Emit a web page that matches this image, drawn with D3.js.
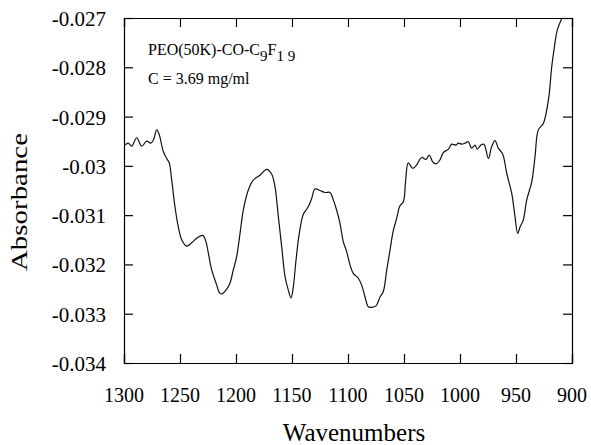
<!DOCTYPE html>
<html>
<head>
<meta charset="utf-8">
<script src="https://cdn.jsdelivr.net/npm/d3@7"></script>
<style>
  html, body { margin: 0; padding: 0; background: #fff; }
  svg { display: block; }
</style>
</head>
<body>
<svg id="chart" width="591" height="445"></svg>
<script>
// ---- data ----
const wavenumbers = [1299.1,1296.2,1293.1,1288.7,1284.2,1279.7,1276.2,1273.8,1270.8,1268.5,1264.9,1261.9,1259.6,1257.4,1254.5,1251.5,1248.5,1244.0,1239.6,1235.1,1229.7,1226.8,1224.7,1221.7,1217.2,1214.9,1212.8,1208.3,1205.4,1202.4,1199.4,1196.4,1193.5,1189.0,1184.6,1178.6,1172.6,1168.1,1165.2,1162.2,1159.2,1156.2,1153.3,1150.9,1148.8,1146.4,1143.5,1139.9,1136.9,1134.6,1132.4,1129.5,1125.0,1120.5,1116.1,1113.1,1110.1,1107.1,1104.2,1101.2,1098.2,1095.3,1090.8,1087.8,1084.8,1081.9,1078.8,1075.0,1071.4,1068.5,1065.4,1062.5,1059.6,1056.5,1053.6,1050.6,1048.5,1046.2,1042.2,1038.7,1034.2,1030.4,1027.4,1024.4,1021.4,1017.9,1014.9,1010.4,1007.4,1003.6,1001.5,998.5,995.5,992.6,989.6,986.6,984.6,981.5,978.6,974.7,971.7,968.8,965.8,961.9,958.3,953.8,950.9,948.5,946.4,943.5,940.4,935.9,933.0,930.1,925.6,922.6,920.3,918.1,916.1,913.1,909.2,906.0];
const absorbance = [-0.02958,-0.02954,-0.02960,-0.02943,-0.02960,-0.02950,-0.02954,-0.02948,-0.02927,-0.02937,-0.02971,-0.02985,-0.02994,-0.03029,-0.03083,-0.03124,-0.03150,-0.03163,-0.03156,-0.03147,-0.03141,-0.03154,-0.03177,-0.03211,-0.03242,-0.03257,-0.03260,-0.03250,-0.03238,-0.03211,-0.03184,-0.03137,-0.03090,-0.03049,-0.03029,-0.03019,-0.03007,-0.03017,-0.03042,-0.03103,-0.03164,-0.03225,-0.03252,-0.03268,-0.03245,-0.03191,-0.03137,-0.03098,-0.03088,-0.03079,-0.03066,-0.03047,-0.03050,-0.03054,-0.03054,-0.03069,-0.03090,-0.03117,-0.03154,-0.03174,-0.03201,-0.03218,-0.03228,-0.03242,-0.03266,-0.03286,-0.03287,-0.03284,-0.03266,-0.03255,-0.03211,-0.03171,-0.03132,-0.03106,-0.03081,-0.03073,-0.03029,-0.02994,-0.03005,-0.02998,-0.02983,-0.02987,-0.02978,-0.02992,-0.02996,-0.02988,-0.02973,-0.02966,-0.02956,-0.02958,-0.02954,-0.02956,-0.02954,-0.02951,-0.02964,-0.02958,-0.02966,-0.02958,-0.02956,-0.02985,-0.02961,-0.02949,-0.02964,-0.02976,-0.03015,-0.03056,-0.03103,-0.03137,-0.03124,-0.03110,-0.03069,-0.03032,-0.02981,-0.02927,-0.02914,-0.02887,-0.02853,-0.02799,-0.02765,-0.02724,-0.02701,-0.02680];
const xTicks = [1300, 1250, 1200, 1150, 1100, 1050, 1000, 950, 900];
const yTicks = [-0.027, -0.028, -0.029, -0.03, -0.031, -0.032, -0.033, -0.034];
const yTickLabels = ["-0.027", "-0.028", "-0.029", "-0.03", "-0.031", "-0.032", "-0.033", "-0.034"];
const xTitle = "Wavenumbers";
const yTitle = "Absorbance";
const noteLine2 = "C = 3.69 mg/ml";

const SERIF = "'Liberation Serif', 'Times New Roman', serif";

// ---- layout ----
const svg = d3.select("#chart");
const L = 124, R = 572, T = 18, B = 363;
const x = d3.scaleLinear().domain([1300, 900]).range([L, R]);
const y = d3.scaleLinear().domain([-0.034, -0.027]).range([B, T]);
const tickLen = 9;

svg.append("defs").append("clipPath").attr("id", "clip")
  .append("rect").attr("x", L).attr("y", T).attr("width", R - L).attr("height", B - T);

// axes with inward ticks
const fmtY = d => yTickLabels[yTicks.indexOf(d)];
const gL = svg.append("g").attr("transform", `translate(${L},0)`)
  .call(d3.axisRight(y).tickValues(yTicks).tickSize(tickLen).tickFormat(""));
const gR = svg.append("g").attr("transform", `translate(${R},0)`)
  .call(d3.axisLeft(y).tickValues(yTicks).tickSize(tickLen).tickFormat(""));
const gB = svg.append("g").attr("transform", `translate(0,${B})`)
  .call(d3.axisTop(x).tickValues(xTicks).tickSize(tickLen).tickFormat(""));
const gT = svg.append("g").attr("transform", `translate(0,${T})`)
  .call(d3.axisBottom(x).tickValues(xTicks).tickSize(tickLen).tickFormat(""));
[gL, gR, gB, gT].forEach(g => {
  g.selectAll("path.domain").attr("stroke", "#000").attr("stroke-width", 1.2);
  g.selectAll(".tick line").attr("stroke", "#000").attr("stroke-width", 1.2);
});

// tick labels
svg.append("g").selectAll("text").data(yTicks).join("text")
  .attr("x", 106).attr("y", d => y(d) + 8)
  .attr("text-anchor", "end").attr("font-size", 21).attr("font-family", SERIF)
  .text(fmtY);
svg.append("g").selectAll("text").data(xTicks).join("text")
  .attr("x", d => x(d)).attr("y", 402)
  .attr("text-anchor", "middle").attr("font-size", 20).attr("font-family", SERIF)
  .text(d => d);

// titles
svg.append("text").attr("x", 354).attr("y", 441).attr("text-anchor", "middle")
  .attr("font-size", 25).attr("font-family", SERIF).text(xTitle);
svg.append("text").attr("transform", "translate(27,202) rotate(-90)")
  .attr("text-anchor", "middle").attr("font-size", 24).attr("font-family", SERIF)
  .attr("textLength", 138).attr("lengthAdjust", "spacingAndGlyphs").text(yTitle);

// annotation
const note = svg.append("text").attr("x", 148).attr("y", 55).attr("font-size", 16).attr("font-family", SERIF);
note.append("tspan").text("PEO(50K)-CO-C");
note.append("tspan").attr("dy", 6).attr("font-size", 15).text("9");
note.append("tspan").attr("dy", -6).text("F");
note.append("tspan").attr("dy", 6).attr("font-size", 15).text("1 9");
svg.append("text").attr("x", 148).attr("y", 84).attr("font-size", 16).attr("font-family", SERIF).text(noteLine2);

// curve
const pts = wavenumbers.map((w, i) => [w, absorbance[i]]);
svg.append("path").datum(pts)
  .attr("clip-path", "url(#clip)")
  .attr("fill", "none").attr("stroke", "#111").attr("stroke-width", 1.2)
  .attr("d", d3.line().x(d => x(d[0])).y(d => y(d[1])).curve(d3.curveCatmullRom));
</script>
</body>
</html>
